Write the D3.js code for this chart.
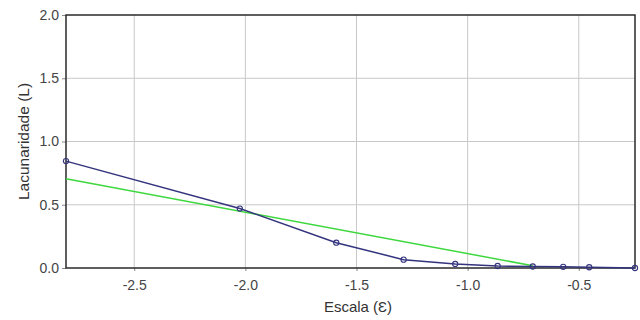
<!DOCTYPE html>
<html>
<head>
<meta charset="utf-8">
<script src="https://cdn.jsdelivr.net/npm/d3@7"></script>
<style>
  html, body { margin: 0; padding: 0; background: #fff; }
  svg { display: block; }
  text { font-family: "Liberation Sans", Arial, sans-serif; }
</style>
</head>
<body>
<svg id="chart" width="640" height="320"></svg>
<script>
// Lacunarity by scale (log10 of box size)
const scaleValues = [-2.807, -2.025, -1.591, -1.288, -1.056, -0.865, -0.707, -0.570, -0.453, -0.247];
const lacunarity  = [0.845, 0.470, 0.200, 0.066, 0.032, 0.016, 0.012, 0.009, 0.006, 0.0];

// Fitted trend line endpoints
const fitX = [-2.807, -0.707];
const fitY = [0.705, 0.018];

const xTicks = [-2.5, -2.0, -1.5, -1.0, -0.5];
const yTicks = [0.0, 0.5, 1.0, 1.5, 2.0];

const margin = { left: 66, right: 5, top: 15, bottom: 52 };
const W = 640, H = 320;

const svg = d3.select("#chart");

const x = d3.scaleLinear().domain([d3.min(scaleValues), d3.max(scaleValues)])
  .range([margin.left, W - margin.right]);
const y = d3.scaleLinear().domain([0, 2]).range([H - margin.bottom, margin.top]);

// plain hyphen-minus, one decimal
const fmt = d => d.toFixed(1);

// grid
svg.append("g").selectAll("line").data(xTicks).join("line")
  .attr("x1", d => x(d)).attr("x2", d => x(d))
  .attr("y1", y(2)).attr("y2", y(0))
  .attr("stroke", "#c8c8c8").attr("stroke-width", 1);
svg.append("g").selectAll("line").data(yTicks.slice(1, -1)).join("line")
  .attr("x1", x.range()[0]).attr("x2", x.range()[1])
  .attr("y1", d => y(d)).attr("y2", d => y(d))
  .attr("stroke", "#c8c8c8").attr("stroke-width", 1);

// axes
const xAxis = svg.append("g")
  .attr("transform", `translate(0,${y(0)})`)
  .call(d3.axisBottom(x).tickValues(xTicks).tickFormat(fmt).tickSize(3).tickPadding(9));
const yAxis = svg.append("g")
  .attr("transform", `translate(${x.range()[0]},0)`)
  .call(d3.axisLeft(y).tickValues(yTicks).tickFormat(fmt).tickSize(4).tickPadding(3));

[xAxis, yAxis].forEach(g => {
  g.select(".domain").remove();
  g.selectAll(".tick line").attr("stroke", "#888");
  g.selectAll(".tick text").attr("fill", "#444").style("font-size", "14px")
    .style("font-family", "'Liberation Sans', Arial, sans-serif");
});

// frame
svg.append("rect")
  .attr("x", x.range()[0]).attr("y", y(2))
  .attr("width", x.range()[1] - x.range()[0])
  .attr("height", y(0) - y(2))
  .attr("fill", "none").attr("stroke", "#2a2a2a").attr("stroke-width", 1.5);

// data
const pts = scaleValues.map((v, i) => [v, lacunarity[i]]);
const line = d3.line().x(d => x(d[0])).y(d => y(d[1]));

svg.append("path")
  .datum(fitX.map((v, i) => [v, fitY[i]]))
  .attr("d", line)
  .attr("fill", "none").attr("stroke", "#3ed83e").attr("stroke-width", 1.5);

svg.append("path")
  .datum(pts)
  .attr("d", line)
  .attr("fill", "none").attr("stroke", "#34347e").attr("stroke-width", 1.5);

svg.append("g").selectAll("circle").data(pts).join("circle")
  .attr("cx", d => x(d[0])).attr("cy", d => y(d[1]))
  .attr("r", 2.6)
  .attr("fill", "none").attr("stroke", "#34347e").attr("stroke-width", 1.1);

// axis titles
svg.append("text")
  .attr("x", 358).attr("y", 312)
  .attr("text-anchor", "middle")
  .attr("fill", "#333").style("font-size", "15px")
  .text("Escala (Ɛ)");

svg.append("text")
  .attr("transform", `translate(29,${(y(0) + y(2)) / 2}) rotate(-90)`)
  .attr("text-anchor", "middle")
  .attr("fill", "#333").style("font-size", "15.5px")
  .text("Lacunaridade (L)");
</script>
</body>
</html>
